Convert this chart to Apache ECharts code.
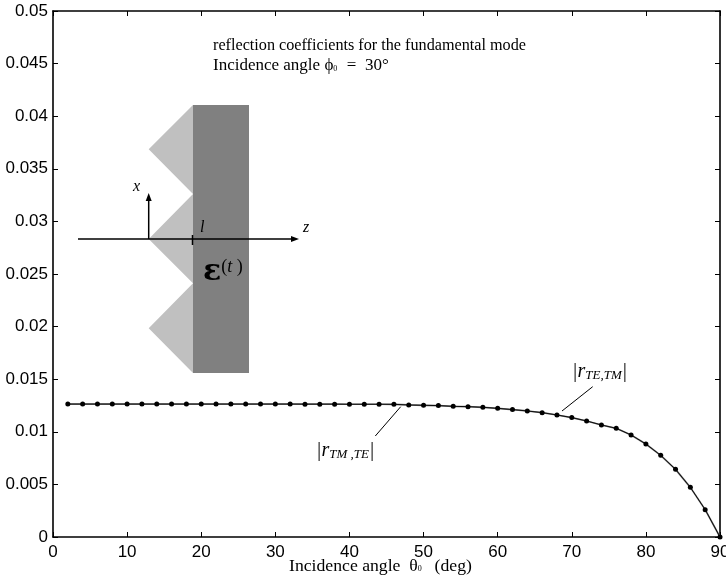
<!DOCTYPE html>
<html><head><meta charset="utf-8">
<style>html,body{margin:0;padding:0;background:#fff;overflow:hidden}#c{width:726px;height:579px}</style>
<script src="https://cdn.jsdelivr.net/npm/echarts@6/dist/echarts.min.js"></script>
</head><body><div id="c"></div>
<script>
const angles = [2,4,6,8,10,12,14,16,18,20,22,24,26,28,30,32,34,36,38,40,42,44,46,48,50,52,54,56,58,60,62,64,66,68,70,72,74,76,78,80,82,84,86,88,90];
const rTETM = [.01264,.01264,.01264,.01264,.01264,.01264,.01264,.01264,.01264,.01264,.01264,.01264,.01264,.01264,.01264,.01264,.01263,.01263,.01263,.01262,.01262,.01262,.01261,.01255,.01252,.01249,.01242,.01239,.01233,.01223,.01211,.01198,.01182,.0116,.01135,.01103,.01065,.01033,.0097,.00884,.00776,.00643,.00472,.0026,0];
const rTMTE = rTETM.slice();
const xTicks = [0,10,20,30,40,50,60,70,80,90];
const yTicks = [0,.005,.01,.015,.02,.025,.03,.035,.04,.045,.05];
const xMax = xTicks[xTicks.length-1], yMax = yTicks[yTicks.length-1];

const serif = '"Liberation Serif","Times New Roman",serif';
const sans = '"Liberation Sans",Arial,sans-serif';
const chart = echarts.init(document.getElementById('c'), null, {renderer:'canvas'});
const axisLine = {show:true, onZero:false, lineStyle:{color:'#000', width:1.6}};
const xBase = {type:'value', min:0, max:xMax, interval:10, splitLine:{show:false},
  axisLine, axisTick:{show:true, inside:true, length:5, lineStyle:{color:'#000', width:1}}};
const yBase = {type:'value', min:0, max:yMax, interval:.005, splitLine:{show:false},
  axisLine, axisTick:{show:true, inside:true, length:5, lineStyle:{color:'#000', width:1}}};
const line = (x1,y1,x2,y2,w=1.5)=>({type:'line', shape:{x1,y1,x2,y2}, style:{stroke:'#000', lineWidth:w}, z:20});
const txt = (x,y,text,extra={})=>({type:'text', x, y, z:21, style:Object.assign({text, fill:'#000', font:'14px '+serif, textVerticalAlign:'middle'}, extra)});
const rRich = {
  b:{fontFamily:serif, fontStyle:'italic', fontSize:20, fill:'#000'},
  r:{fontFamily:serif, fontStyle:'italic', fontSize:20, fill:'#000'},
  s:{fontFamily:serif, fontStyle:'italic', fontSize:13, fill:'#000', padding:[8,0,0,0]}
};
chart.setOption({
  animation:false,
  backgroundColor:'#fff',
  grid:{left:53, right:6, top:11, bottom:42, containLabel:false, outerBoundsMode:'none'},
  xAxis:[
    Object.assign({}, xBase, {position:'bottom', axisLabel:{show:true, hideOverlap:false, showMaxLabel:true, color:'#000', fontFamily:sans, fontSize:17, margin:7, formatter:v=>String(v)}}),
    Object.assign({}, xBase, {position:'top', axisLabel:{show:false}})
  ],
  yAxis:[
    Object.assign({}, yBase, {position:'left', axisLabel:{show:true, color:'#000', fontFamily:sans, fontSize:17, margin:5, formatter:v=>String(+v.toFixed(3))}}),
    Object.assign({}, yBase, {position:'right', axisLabel:{show:false}})
  ],
  series:[
    {name:'|r TM,TE|', type:'line', xAxisIndex:0, yAxisIndex:0, clip:false, showSymbol:false, symbol:'none',
     data:angles.map((a,i)=>[a,rTMTE[i]]), lineStyle:{color:'#777', width:1.7}, z:5},
    {name:'|r TE,TM|', type:'line', xAxisIndex:0, yAxisIndex:0, clip:false, showSymbol:true, symbol:'circle', symbolSize:5,
     data:angles.map((a,i)=>[a,rTETM[i]]), lineStyle:{color:'#000', width:.9}, itemStyle:{color:'#000'}, z:6}
  ],
  graphic:[
    {type:'polygon', z:10, shape:{points:[[193,105],[148.7,149.3],[193,194],[148.7,239],[193,283.3],[148.7,328.3],[193,373]]}, style:{fill:'#c0c0c0'}},
    {type:'rect', z:11, shape:{x:193,y:105,width:56,height:268}, style:{fill:'#808080'}},
    line(78,239,293,239),
    {type:'polygon', z:20, shape:{points:[[299,239],[291,236],[291,242]]}, style:{fill:'#000'}},
    line(148.7,239,148.7,198),
    {type:'polygon', z:20, shape:{points:[[148.7,193],[145.7,201],[151.7,201]]}, style:{fill:'#000'}},
    line(192.5,235,192.5,245),
    txt(133,187,'x',{font:'italic 16px '+serif}),
    txt(303,228,'z',{font:'italic 16px '+serif}),
    txt(200,228,'l',{font:'italic 16px '+serif}),
    txt(203,272,'{e|ε}{t|(}{i|t}{t| )}',{rich:{
      e:{fontFamily:'"DejaVu Serif",serif', fontWeight:'bold', fontSize:30, fill:'#000'},
      t:{fontFamily:serif, fontSize:18, fill:'#000', padding:[0,0,10,0]},
      i:{fontFamily:serif, fontStyle:'italic', fontSize:18, fill:'#000', padding:[0,0,10,0]}}}),
    txt(213,46,'reflection coefficients for the fundamental mode',{font:'16.2px '+serif}),
    txt(213,66,'{n|Incidence angle }{p|ϕ}{s|0}{n|  =  30°}',{rich:{
      n:{fontFamily:serif, fontSize:17, fill:'#000'},
      p:{fontFamily:serif, fontSize:17, fill:'#000'},
      s:{fontFamily:serif, fontSize:8, fill:'#000', padding:[6,1,0,0]}}}),
    txt(572,372,'{b||}{r|r}{s|TE,TM}{b||}',{rich:rRich}),
    txt(316,451,'{b||}{r|r}{s|TM ,TE}{b||}',{rich:rRich}),
    line(592.7,386.7,562,411,1),
    line(400.7,406.7,375.3,436,1),
    txt(289,566,'{n|Incidence angle  }{p|θ}{s|0}{m|  (deg)}',{rich:{
      n:{fontFamily:serif, fontSize:17.7, fill:'#000'},
      m:{fontFamily:serif, fontSize:17.7, fill:'#000', padding:[0,0,0,4]},
      p:{fontFamily:serif, fontSize:17.7, fill:'#000'},
      s:{fontFamily:serif, fontSize:8, fill:'#000', padding:[6,0,0,0]}}})
  ]
});
</script></body></html>
